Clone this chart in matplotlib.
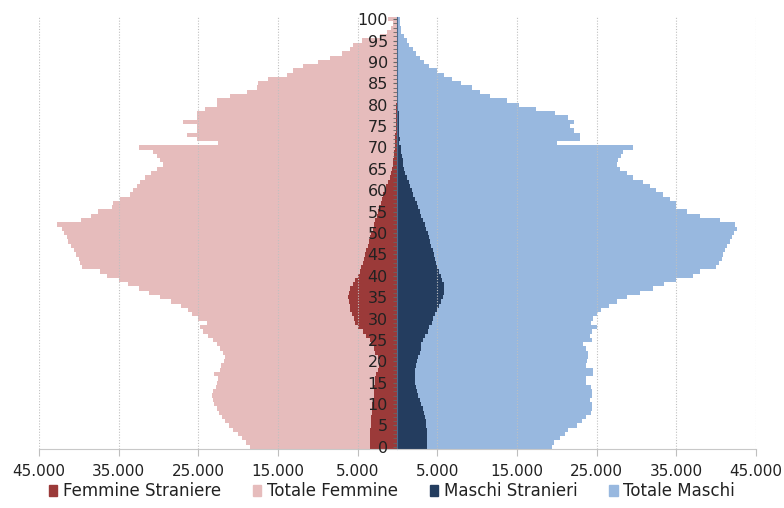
import numpy as np
import matplotlib
matplotlib.use("Agg")
import matplotlib.pyplot as plt
from matplotlib.patches import Patch
from matplotlib.ticker import FuncFormatter, MultipleLocator

# ages 0..100
ages = list(range(0, 101))

totale_femmine = [
    18500, 19000, 19500, 20000, 20600, 21100, 21600, 22000, 22400, 22700,
    23000, 23200, 23300, 23100, 22800, 22600, 22500, 23000, 22300, 22100,
    21800, 21600, 21900, 22300, 22700, 23100, 23800, 24400, 24800, 23900,
    25000, 25800, 26300, 27200, 28400, 29800, 31200, 32500, 33800, 35000,
    36400, 37300, 39600, 39800, 40000, 40400, 40600, 41000, 41300, 41500,
    41800, 42100, 42700, 39700, 38500, 37600, 35800, 35700, 34800, 33600,
    33200, 32700, 32300, 31700, 31000, 30200, 29400, 29800, 30200, 30700,
    32400, 22500, 25200, 26400, 25200, 25200, 26900, 25200, 25200, 24200,
    22700, 22600, 21000, 18900, 17600, 17500, 16200, 13900, 13100, 11800,
    10000, 8500, 7000, 6000, 5600, 4500, 2200, 1300, 800, 600,
    1200]

femmine_straniere = [
    3400, 3500, 3500, 3400, 3400, 3300, 3300, 3300, 3200, 3200,
    3200, 3100, 3000, 3000, 2900, 2800, 2800, 2700, 2400, 2300,
    2200, 2500, 2800, 2900, 3300, 3500, 3900, 4300, 5000, 5300,
    5500, 5700, 5900, 6000, 6100, 6200, 6100, 5900, 5600, 5300,
    5000, 4750, 4550, 4350, 4200, 4050, 3900, 3750, 3600, 3450,
    3300, 3100, 2950, 2800, 2600, 2450, 2300, 2100, 1950, 1800,
    1600, 1400, 1200, 1000, 850, 700, 600, 550, 450, 400,
    350, 250, 280, 260, 240, 220, 210, 190, 170, 150,
    130, 110, 100, 90, 80, 70, 60, 50, 40, 35,
    30, 25, 20, 15, 12, 10, 8, 5, 4, 3,
    2]

totale_maschi = [
    19400, 19600, 20400, 21000, 21400, 22500, 23100, 23700, 24300, 24400,
    24400, 24200, 24400, 24400, 24300, 23700, 23700, 24600, 24500, 23700,
    23800, 23900, 23900, 23700, 23300, 24400, 24200, 24400, 25000, 24300,
    24600, 25000, 25600, 26500, 27500, 28800, 30400, 32100, 33400, 35000,
    37100, 38000, 40000, 40300, 40700, 40900, 41100, 41300, 41700, 42000,
    42200, 42600, 42400, 40500, 38000, 36300, 35000, 35000, 34200, 33300,
    32500, 31700, 30800, 29600, 28800, 27900, 27500, 27700, 28100, 28300,
    29600, 20000, 22900, 22900, 22100, 21600, 22100, 21400, 19800, 17400,
    15200, 13700, 11600, 10400, 9300, 8000, 6800, 5800, 4900, 3900,
    3300, 2800, 2300, 1900, 1500, 1150, 800, 500, 400, 300,
    300]

maschi_stranieri = [
    3700, 3700, 3700, 3700, 3700, 3600, 3600, 3500, 3300, 3200,
    3000, 2800, 2600, 2500, 2300, 2200, 2200, 2200, 2200, 2300,
    2400, 2600, 2800, 2900, 3000, 3200, 3500, 3800, 4000, 4300,
    4500, 4700, 4900, 5200, 5400, 5700, 5900, 5900, 5800, 5600,
    5400, 5200, 5000, 4850, 4700, 4550, 4400, 4250, 4100, 3950,
    3800, 3600, 3400, 3200, 3000, 2800, 2600, 2400, 2200, 2000,
    1800, 1600, 1400, 1200, 1000, 850, 750, 650, 550, 450,
    400, 250, 260, 240, 220, 200, 180, 160, 140, 120,
    100, 90, 80, 70, 60, 50, 40, 35, 30, 25,
    20, 15, 12, 10, 8, 6, 5, 4, 3, 2,
    2]

c_fs = '#9B3A39'
c_tf = '#E6BCBC'
c_ms = '#243D5F'
c_tm = '#98B8DF'

fig = plt.figure(figsize=(7.84, 5.08), dpi=100)
ax = fig.add_axes([0.0497, 0.1161, 0.9146, 0.8504])

ax.barh(ages, [-v for v in totale_femmine], height=1.0, color=c_tf, linewidth=0, zorder=1)
ax.barh(ages, totale_maschi, height=1.0, color=c_tm, linewidth=0, zorder=1)
ax.barh(ages, [-v for v in femmine_straniere], height=1.0, color=c_fs, linewidth=0, zorder=1.2)
ax.barh(ages, maschi_stranieri, height=1.0, color=c_ms, linewidth=0, zorder=1.2)

ax.set_xlim(-45000, 45000)
ax.set_ylim(-0.5, 100.5)
ax.set_xticks(np.arange(-45000, 45001, 10000))
ax.xaxis.set_major_formatter(FuncFormatter(lambda v, p: f"{abs(int(round(v))):,}".replace(',', '.')))
ax.tick_params(axis='x', labelsize=11, length=5, color='#BFBFBF', pad=6, labelcolor='#222222')

ax.grid(axis='x', color='#C0C0C0', linestyle=(0, (1, 1.5)), linewidth=0.8)
ax.set_axisbelow(False)

# age axis in the middle
ax.spines['top'].set_visible(False)
ax.spines['right'].set_visible(False)
ax.spines['bottom'].set_color('#C8C8C8')
ax.spines['left'].set_position(('data', 0))
ax.spines['left'].set_color('#4A6A93')
ax.spines['left'].set_linewidth(0.8)
ax.yaxis.set_major_locator(MultipleLocator(5))
ax.yaxis.set_minor_locator(MultipleLocator(1))
ax.tick_params(axis='y', which='major', labelsize=11.5, length=3, pad=4, color='#666666', labelcolor='#222222')
ax.tick_params(axis='y', which='minor', length=3, color='#666666')

handles = [Patch(color=c_fs, label='Femmine Straniere'),
           Patch(color=c_tf, label='Totale Femmine'),
           Patch(color=c_ms, label='Maschi Stranieri'),
           Patch(color=c_tm, label='Totale Maschi')]
fig.legend(handles=handles, loc='lower center', bbox_to_anchor=(0.5, -0.014), ncol=4,
           frameon=False, fontsize=12, handlelength=0.5, handleheight=0.6,
           handletextpad=0.35, columnspacing=1.9, labelcolor='#222222')

fig.savefig('out.png', dpi=100)
